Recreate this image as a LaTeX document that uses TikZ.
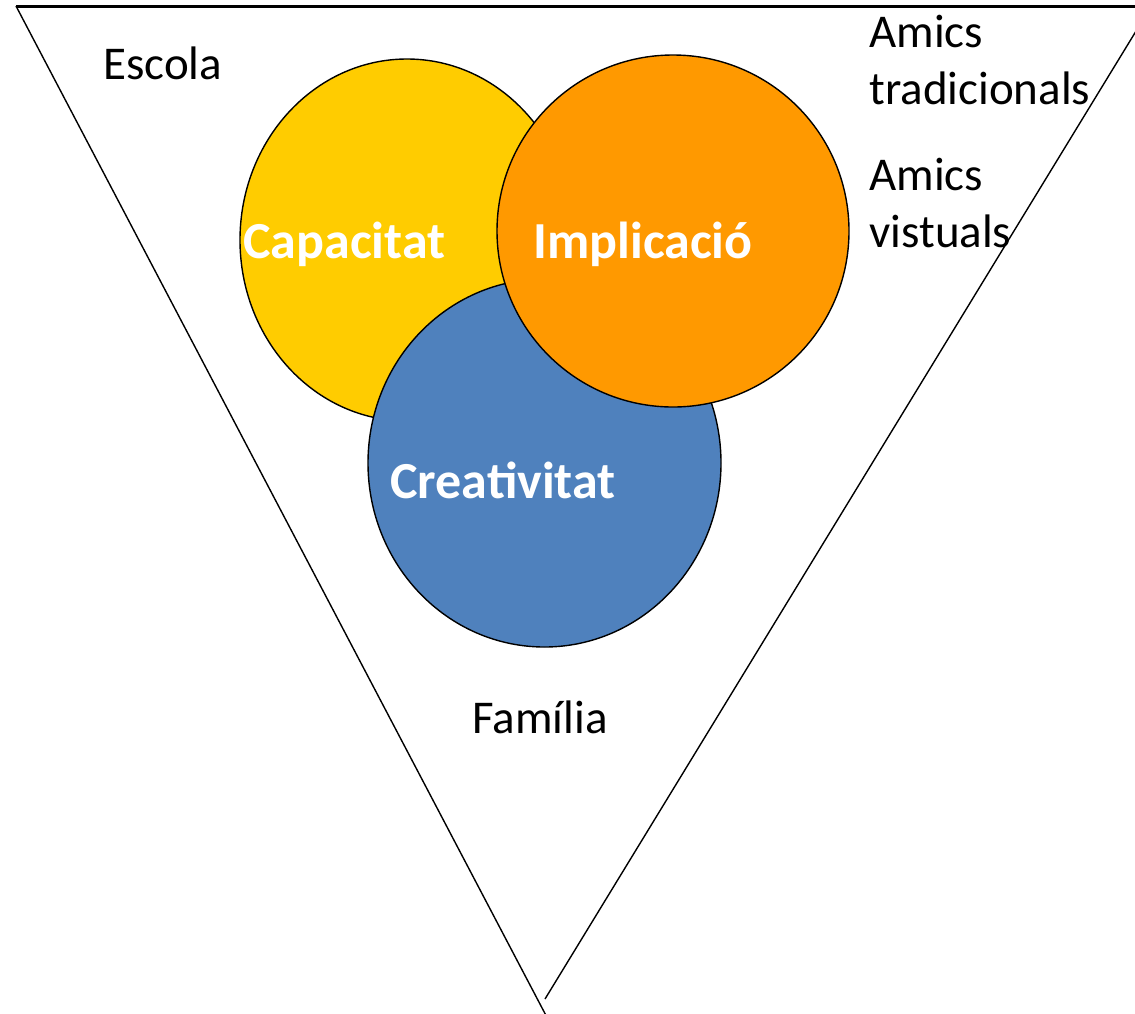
\documentclass[tikz,border=0pt]{standalone}
\usepackage{fontspec}
\setmainfont{Carlito}
\usetikzlibrary{shapes.geometric, positioning}
\definecolor{capyellow}{HTML}{FFCC00}
\definecolor{implorange}{HTML}{FF9900}
\definecolor{creablue}{HTML}{4F81BD}
\tikzset{>=latex}
\begin{document}
\begin{tikzpicture}[x=0.5pt,y=-0.5pt,
    bubble/.style={ellipse,draw,line width=0.7pt,inner sep=0pt},
    inlabel/.style={text=white,font=\fontsize{26}{31}\selectfont\bfseries,anchor=base west,inner sep=0pt},
    outlabel/.style={font=\fontsize{23.5}{28.5}\selectfont,anchor=base west,inner sep=0pt,align=left}]
    \useasboundingbox[fill=white] (0,0) rectangle (1135,1013);
    \clip (0,0) rectangle (1135,1013);
    % funnel
    \coordinate (tl) at (16,6);
    \coordinate (tr) at (1160,6);
    \coordinate (lb) at (551,1025);
    \coordinate (rt) at (1155,0);
    \coordinate (rb) at (545,999);
    \draw[line width=1.5pt] (tl) -- (tr);
    \draw[line width=0.7pt] (tl) -- (lb);
    \draw[line width=0.7pt] (rt) -- (rb);
    % circles
    \node[bubble,fill=capyellow,minimum width=167pt,minimum height=181pt] (cap) at (407,240) {};
    \node[bubble,fill=creablue,minimum width=176.5pt,minimum height=184pt] (crea) at (544.5,463) {};
    \node[bubble,fill=implorange,minimum width=176pt,minimum height=176pt] (impl) at (673,231) {};
    \node[inlabel] (captxt) at (243,258) {Capacitat};
    \node[inlabel] (impltxt) at (533,258) {Implicació};
    \node[inlabel] (creatxt) at (390,498) {Creativitat};
    % surroundings (base = last line)
    \node[outlabel] (escola) at (103,79) {Escola};
    \node[outlabel] (amtrad) at (869,104) {Amics\\tradicionals};
    \node[outlabel] (amvirt) at (869,247) {Amics\\vistuals};
    \node[outlabel] (familia) at (472,733) {Família};
\end{tikzpicture}
\end{document}
